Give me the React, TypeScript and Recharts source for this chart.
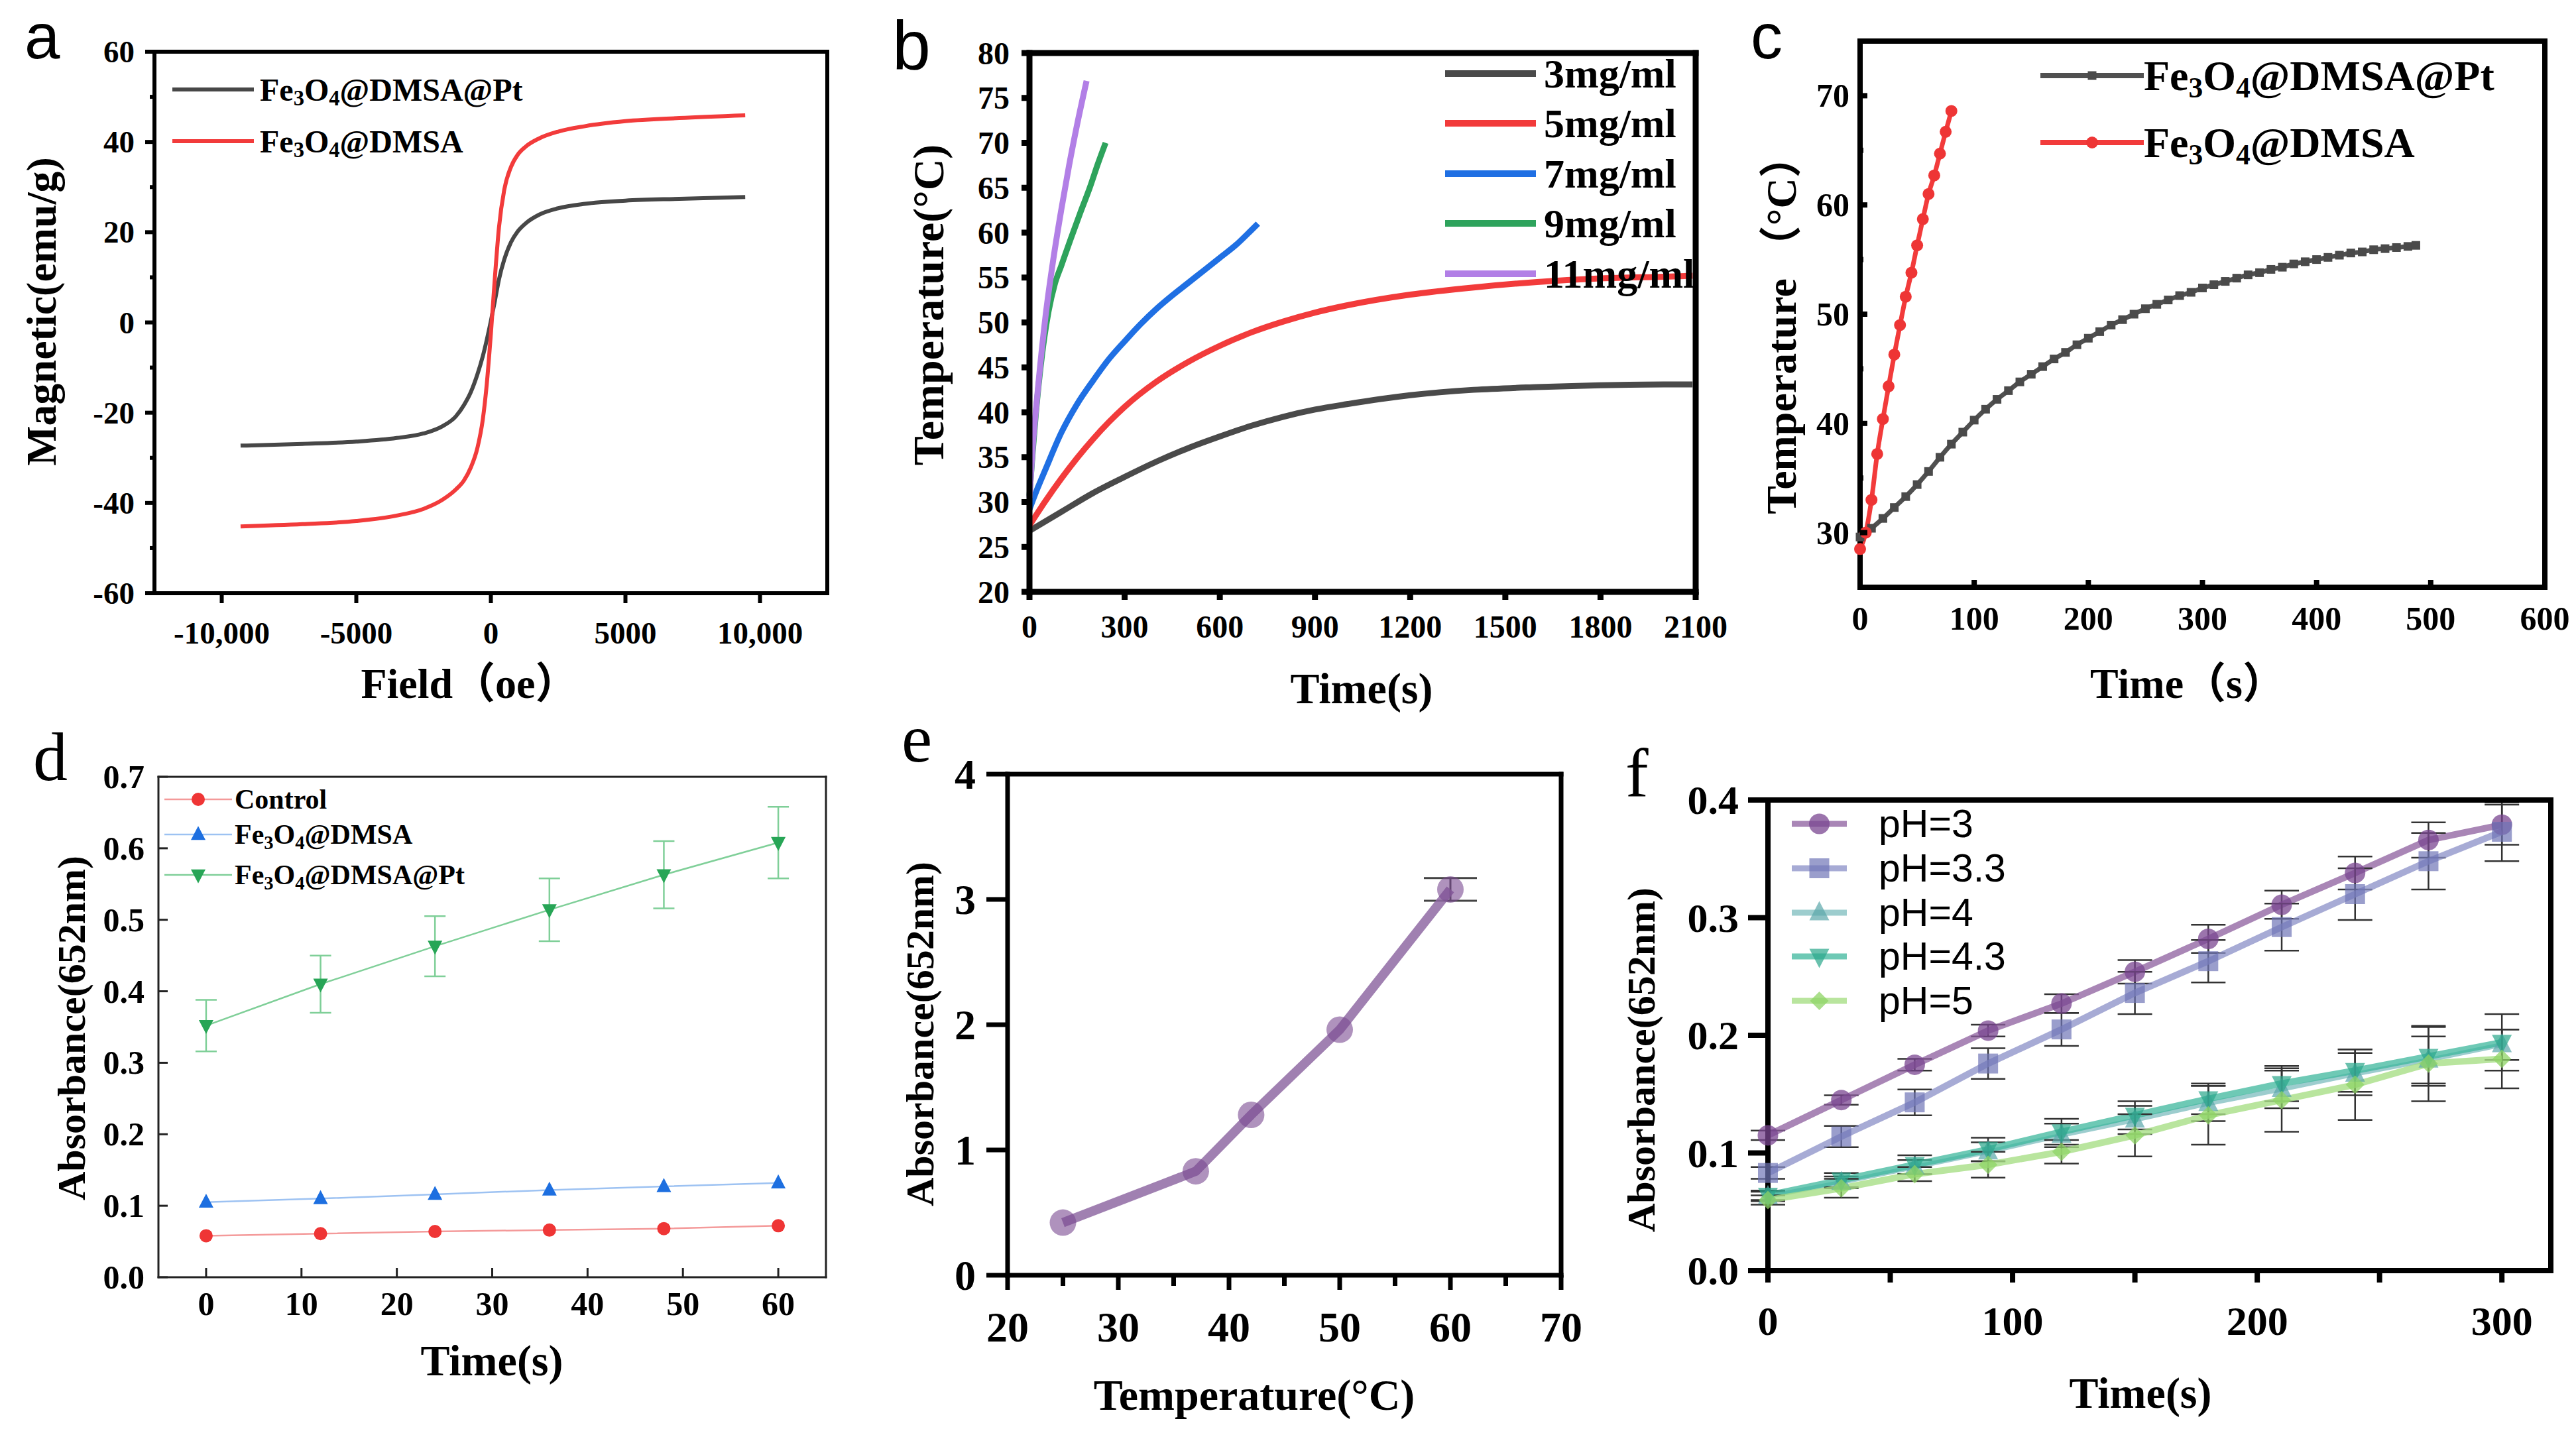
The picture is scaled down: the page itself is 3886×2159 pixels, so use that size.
import React from 'react';
import { LineChart, Line, XAxis, YAxis, ErrorBar, Legend } from 'recharts';

const W = 3886;
const H = 2159;
const SERIF = "'Liberation Serif', 'Times New Roman', 'Noto Sans CJK SC', serif";
const SANS = "'Liberation Sans', Arial, 'Noto Sans CJK SC', sans-serif";

// ---------------- Panel a : magnetization ----------------
const aFieldPt = [-9300, -7000, -5000, -3500, -2500, -1800, -1300, -1000, -750, -500, -300, -150, 0, 150, 300, 500, 750, 1000, 1300, 1800, 2500, 3500, 5000, 7000, 9450];
const aMagPt = [-27.3, -26.9, -26.4, -25.6, -24.6, -23.0, -20.8, -18.3, -15.5, -11.5, -7.5, -3.8, 0.3, 4.8, 9.5, 14.0, 17.8, 20.2, 22.0, 23.9, 25.3, 26.3, 27.0, 27.4, 27.8];
const aFieldDmsa = [-9300, -7000, -5000, -3500, -2500, -1800, -1300, -1000, -750, -500, -300, -150, 0, 150, 300, 500, 750, 1000, 1300, 1800, 2500, 3500, 5000, 7000, 9450];
const aMagDmsa = [-45.2, -44.7, -44.0, -42.8, -41.3, -39.3, -37.0, -35.0, -32.2, -27.8, -21.5, -13.5, -2.5, 10.0, 21.0, 29.5, 34.5, 37.2, 39.0, 40.8, 42.3, 43.5, 44.6, 45.3, 45.9];
const aXTicks = [-10000, -5000, 0, 5000, 10000];
const aXTickLabels = ['-10,000', '-5000', '0', '5000', '10,000'];
const aYTicks = [-60, -40, -20, 0, 20, 40, 60];
const aYTickLabels = ['-60', '-40', '-20', '0', '20', '40', '60'];
const aYMinor = [-50, -30, -10, 10, 30, 50];

// ---------------- Panel b : heating curves ----------------
const b3t = [0, 100, 200, 300, 400, 500, 600, 700, 800, 900, 1000, 1200, 1400, 1600, 1800, 2000, 2090];
const b3T = [26.8, 28.9, 31.0, 32.8, 34.5, 36.0, 37.3, 38.5, 39.5, 40.3, 40.9, 41.9, 42.5, 42.8, 43.0, 43.1, 43.1];
const b5t = [0, 50, 100, 150, 200, 250, 300, 400, 500, 600, 700, 800, 900, 1000, 1200, 1400, 1600, 1800, 2000, 2090];
const b5T = [27.4, 30.1, 32.6, 34.9, 37.0, 38.9, 40.6, 43.4, 45.6, 47.4, 48.9, 50.1, 51.1, 51.9, 53.1, 53.9, 54.5, 54.9, 55.1, 55.2];
const b7t = [0, 25, 50, 100, 150, 200, 250, 300, 350, 400, 450, 500, 550, 600, 650, 700, 720];
const b7T = [29.2, 31.5, 33.6, 37.7, 40.9, 43.5, 45.9, 47.9, 49.8, 51.5, 53.0, 54.4, 55.8, 57.2, 58.6, 60.3, 61.0];
const b9t = [0, 10, 20, 40, 60, 80, 100, 130, 160, 190, 215, 240];
const b9T = [30.7, 35.5, 39.8, 46.5, 51.2, 54.3, 56.3, 59.3, 62.2, 65.0, 67.6, 70.0];
const b11t = [0, 10, 25, 50, 75, 100, 125, 150, 180];
const b11T = [30.5, 36.0, 42.0, 50.5, 57.0, 62.5, 67.5, 72.0, 76.9];
const bXTicks = [0, 300, 600, 900, 1200, 1500, 1800, 2100];
const bXTickLabels = ['0', '300', '600', '900', '1200', '1500', '1800', '2100'];
const bYTicks = [20, 25, 30, 35, 40, 45, 50, 55, 60, 65, 70, 75, 80];
const bYTickLabels = ['20', '25', '30', '35', '40', '45', '50', '55', '60', '65', '70', '75', '80'];

// ---------------- Panel c : Pt vs no Pt ----------------
const cPtTime = [0, 10, 20, 30, 40, 50, 60, 70, 80, 90, 100, 110, 120, 130, 140, 150, 160, 170, 180, 190, 200, 210, 220, 230, 240, 250, 260, 270, 280, 290, 300, 310, 320, 330, 340, 350, 360, 370, 380, 390, 400, 410, 420, 430, 440, 450, 460, 470, 480, 487];
const cPtTemp = [29.6, 30.4, 31.3, 32.3, 33.3, 34.4, 35.6, 36.9, 38.1, 39.2, 40.3, 41.3, 42.2, 43.0, 43.8, 44.5, 45.2, 45.9, 46.5, 47.2, 47.8, 48.4, 49.0, 49.5, 50.0, 50.5, 50.9, 51.3, 51.7, 52.0, 52.4, 52.7, 53.0, 53.3, 53.6, 53.8, 54.1, 54.3, 54.6, 54.8, 55.0, 55.2, 55.4, 55.6, 55.7, 55.9, 56.0, 56.1, 56.2, 56.3];
const cDmsaTime = [0, 5, 10, 15, 20, 25, 30, 35, 40, 45, 50, 55, 60, 65, 70, 75, 80];
const cDmsaTemp = [28.5, 30.0, 33.0, 37.2, 40.4, 43.4, 46.3, 49.0, 51.6, 53.8, 56.3, 58.7, 61.0, 62.7, 64.7, 66.7, 68.6];
const cXTicks = [0, 100, 200, 300, 400, 500, 600];
const cXTickLabels = ['0', '100', '200', '300', '400', '500', '600'];
const cYTicks = [30, 40, 50, 60, 70];
const cYTickLabels = ['30', '40', '50', '60', '70'];
const cYMinor = [35, 45, 55, 65];

// ---------------- Panel d : absorbance vs time ----------------
const dTime = [0, 12, 24, 36, 48, 60];
const dControl = [0.058, 0.061, 0.064, 0.066, 0.068, 0.072];
const dDmsa = [0.105, 0.110, 0.116, 0.122, 0.127, 0.132];
const dPt = [0.352, 0.410, 0.463, 0.514, 0.563, 0.608];
const dPtErr = [0.036, 0.040, 0.042, 0.044, 0.047, 0.050];
const dXTicks = [0, 10, 20, 30, 40, 50, 60];
const dXTickLabels = ['0', '10', '20', '30', '40', '50', '60'];
const dYTicks = [0, 0.1, 0.2, 0.3, 0.4, 0.5, 0.6, 0.7];
const dYTickLabels = ['0.0', '0.1', '0.2', '0.3', '0.4', '0.5', '0.6', '0.7'];

// ---------------- Panel e : absorbance vs temperature ----------------
const eTemp = [25, 37, 42, 50, 60];
const eAbs = [0.42, 0.83, 1.28, 1.96, 3.08];
const eErr = [0, 0, 0, 0, 0.09];
const eXTicks = [20, 30, 40, 50, 60, 70];
const eXTickLabels = ['20', '30', '40', '50', '60', '70'];
const eXMinor = [25, 35, 45, 55, 65];
const eYTicks = [0, 1, 2, 3, 4];
const eYTickLabels = ['0', '1', '2', '3', '4'];

// ---------------- Panel f : pH ----------------
const fTime = [0, 30, 60, 90, 120, 150, 180, 210, 240, 270, 300];
const fPH3 = [0.115, 0.145, 0.175, 0.204, 0.227, 0.254, 0.282, 0.311, 0.338, 0.366, 0.379];
const fPH3Err = [0.004, 0.004, 0.005, 0.005, 0.008, 0.010, 0.012, 0.012, 0.014, 0.015, 0.017];
const fPH33 = [0.083, 0.114, 0.143, 0.176, 0.205, 0.236, 0.263, 0.292, 0.320, 0.348, 0.373];
const fPH33Err = [0.005, 0.009, 0.011, 0.013, 0.014, 0.018, 0.018, 0.020, 0.022, 0.024, 0.025];
const fPH4 = [0.063, 0.075, 0.088, 0.101, 0.115, 0.128, 0.142, 0.154, 0.167, 0.179, 0.192];
const fPH4Err = [0.004, 0.005, 0.006, 0.008, 0.010, 0.012, 0.015, 0.016, 0.018, 0.020, 0.013];
const fPH43 = [0.064, 0.077, 0.090, 0.103, 0.118, 0.132, 0.146, 0.159, 0.170, 0.182, 0.194];
const fPH43Err = [0.004, 0.006, 0.008, 0.010, 0.011, 0.012, 0.013, 0.015, 0.018, 0.025, 0.024];
const fPH5 = [0.060, 0.070, 0.082, 0.090, 0.101, 0.115, 0.132, 0.145, 0.158, 0.176, 0.180];
const fPH5Err = [0.004, 0.008, 0.006, 0.011, 0.010, 0.018, 0.025, 0.027, 0.030, 0.032, 0.025];
const fXTicks = [0, 100, 200, 300];
const fXTickLabels = ['0', '100', '200', '300'];
const fXMinor = [50, 150, 250];
const fYTicks = [0, 0.1, 0.2, 0.3, 0.4];
const fYTickLabels = ['0.0', '0.1', '0.2', '0.3', '0.4'];

// ---------------- helpers ----------------
type Pt = { x: number; y: number; e?: number };
const pts = (xs: number[], ys: number[], es?: number[]): Pt[] =>
  xs.map((x, i) => ({ x, y: ys[i], e: es ? es[i] : 0 }));

type MarkerKind = 'circle' | 'square' | 'tri' | 'triDown' | 'diamond';

function marker(kind: MarkerKind, cx: number, cy: number, size: number, fill: string, opacity: number, key?: any) {
  const s = size;
  if (kind === 'circle') return <circle key={key} cx={cx} cy={cy} r={s / 2} fill={fill} fillOpacity={opacity} />;
  if (kind === 'square') return <rect key={key} x={cx - s / 2} y={cy - s / 2} width={s} height={s} fill={fill} fillOpacity={opacity} />;
  if (kind === 'tri') return <polygon key={key} points={`${cx},${cy - s * 0.58} ${cx - s / 2},${cy + s * 0.38} ${cx + s / 2},${cy + s * 0.38}`} fill={fill} fillOpacity={opacity} />;
  if (kind === 'triDown') return <polygon key={key} points={`${cx},${cy + s * 0.58} ${cx - s / 2},${cy - s * 0.38} ${cx + s / 2},${cy - s * 0.38}`} fill={fill} fillOpacity={opacity} />;
  return <polygon key={key} points={`${cx},${cy - s / 2} ${cx + s / 2},${cy} ${cx},${cy + s / 2} ${cx - s / 2},${cy}`} fill={fill} fillOpacity={opacity} />;
}

function ChemText({ x, y, text, size, family, weight }: { x: number; y: number; text: string; size: number; family: string; weight: number }) {
  const runs: { t: string; sub: boolean }[] = [];
  for (let i = 0; i < text.length; i++) {
    const ch = text[i];
    const sub = /[0-9]/.test(ch) && i > 0 && /[A-Za-z]/.test(text[i - 1]) && text.startsWith('Fe');
    const last = runs[runs.length - 1];
    if (last && last.sub === sub) last.t += ch;
    else runs.push({ t: ch, sub });
  }
  const shift = size * 0.28;
  let cur = 0;
  return (
    <text x={x} y={y} dominantBaseline="central" fontFamily={family} fontWeight={weight} fontSize={size} fill="#000">
      {runs.map((r, i) => {
        const target = r.sub ? shift : 0;
        const dy = target - cur;
        cur = target;
        return (
          <tspan key={i} dy={dy} fontSize={r.sub ? size * 0.68 : size}>
            {r.t}
          </tspan>
        );
      })}
    </text>
  );
}

type Series = {
  name: string;
  data: Pt[];
  color: string;
  width: number;
  opacity?: number;
  curve: 'monotone' | 'linear';
  marker?: MarkerKind;
  markerSize?: number;
  markerColor?: string;
  markerOpacity?: number;
  err?: { stroke: string; width: number; strokeWidth: number };
};

type AxisCfg = {
  domain: [number, number];
  ticks: number[];
  labels: string[];
  minor?: number[];
  len: number;
  minorLen: number;
  inward: boolean;
  gap: number;
  font: number;
};

type LegendCfg = { x1: number; x2: number; textX: number; ys: number[]; font: number; family: string; weight: number; lineWidth: number };

type PanelCfg = {
  rect: { l: number; t: number; r: number; b: number };
  axisColor: string;
  axisWidth: number;
  x: AxisCfg;
  y: AxisCfg;
  series: Series[];
  legend?: LegendCfg;
};

function makeTick(side: 'x' | 'y', ax: AxisCfg, color: string, sw: number) {
  return (props: any) => {
    const { x, y, payload } = props;
    const v = payload ? payload.value : undefined;
    const idx = ax.ticks.indexOf(v);
    const major = idx >= 0;
    const len = major ? ax.len : ax.minorLen;
    if (side === 'x') {
      const dir = ax.inward ? -1 : 1;
      return (
        <g>
          <line x1={x} y1={y} x2={x} y2={y + dir * len} stroke={color} strokeWidth={sw} />
          {major && (
            <text x={x} y={y + ax.gap} textAnchor="middle" dominantBaseline="central" fontFamily={SERIF} fontWeight={700} fontSize={ax.font} fill="#000">
              {ax.labels[idx]}
            </text>
          )}
        </g>
      );
    }
    const dir = ax.inward ? 1 : -1;
    return (
      <g>
        <line x1={x} y1={y} x2={x + dir * len} y2={y} stroke={color} strokeWidth={sw} />
        {major && (
          <text x={x - ax.gap} y={y} textAnchor="end" dominantBaseline="central" fontFamily={SERIF} fontWeight={700} fontSize={ax.font} fill="#000">
            {ax.labels[idx]}
          </text>
        )}
      </g>
    );
  };
}

function Panel({ cfg }: { cfg: PanelCfg }) {
  const { rect } = cfg;
  // one-pixel axis bands round the plot rectangle
  const margin = { left: rect.l - 1, top: rect.t - 1, right: W - rect.r - 1, bottom: H - rect.b - 1 };
  const axisLine: any = { stroke: cfg.axisColor, strokeWidth: cfg.axisWidth, strokeLinecap: 'square' };
  const xTicks = [...cfg.x.ticks, ...(cfg.x.minor || [])].sort((a, b) => a - b);
  const yTicks = [...cfg.y.ticks, ...(cfg.y.minor || [])].sort((a, b) => a - b);
  const L = cfg.legend;
  const legendContent = () =>
    L ? (
      <svg width={W} height={H} style={{ position: 'absolute', left: 0, top: 0, overflow: 'visible', pointerEvents: 'none' }}>
        {cfg.series.map((s, i) => {
          const y = L.ys[i];
          const mx = (L.x1 + L.x2) / 2;
          return (
            <g key={i}>
              <line x1={L.x1} x2={L.x2} y1={y} y2={y} stroke={s.color} strokeWidth={L.lineWidth} strokeOpacity={s.opacity ?? 1} />
              {s.marker && marker(s.marker, mx, y, s.markerSize || 10, s.markerColor || s.color, s.markerOpacity ?? 1)}
              <ChemText x={L.textX} y={y} text={s.name} size={L.font} family={L.family} weight={L.weight} />
            </g>
          );
        })}
      </svg>
    ) : null;
  return (
    <div style={{ position: 'absolute', left: 0, top: 0, width: W, height: H }}>
      <LineChart width={W} height={H} margin={margin}>
        <XAxis xAxisId="main" type="number" dataKey="x" domain={cfg.x.domain} ticks={xTicks} interval={0} height={1}
          tickSize={0} tickMargin={0} tickLine={false} axisLine={axisLine} tick={makeTick('x', cfg.x, cfg.axisColor, cfg.axisWidth)} />
        <XAxis xAxisId="top" orientation="top" type="number" dataKey="x" domain={cfg.x.domain} height={1}
          tick={false} tickLine={false} axisLine={axisLine} />
        <YAxis yAxisId="main" type="number" domain={cfg.y.domain} ticks={yTicks} interval={0} width={1}
          tickSize={0} tickMargin={0} tickLine={false} axisLine={axisLine} tick={makeTick('y', cfg.y, cfg.axisColor, cfg.axisWidth)} />
        <YAxis yAxisId="right" orientation="right" type="number" domain={cfg.y.domain} width={1}
          tick={false} tickLine={false} axisLine={axisLine} />
        {cfg.series.map((s, i) => (
          <Line
            key={s.name}
            xAxisId="main"
            yAxisId="main"
            data={s.data}
            dataKey="y"
            name={s.name}
            type={s.curve}
            stroke={s.color}
            strokeWidth={s.width}
            strokeOpacity={s.opacity ?? 1}
            isAnimationActive={false}
            activeDot={false}
            dot={
              s.marker
                ? (p: any) =>
                    p.cx == null || p.cy == null
                      ? <g key={`n${p.index}`} />
                      : marker(s.marker as MarkerKind, p.cx, p.cy, s.markerSize || 10, s.markerColor || s.color, s.markerOpacity ?? 1, `m${i}-${p.index}`)
                : false
            }
          >
            {s.err && <ErrorBar dataKey="e" direction="y" width={s.err.width} strokeWidth={s.err.strokeWidth} stroke={s.err.stroke} isAnimationActive={false} />}
          </Line>
        ))}
        {L && (
          <Legend layout="vertical" align="center" verticalAlign="middle"
            wrapperStyle={{ left: 0, top: 0, width: W, height: H, pointerEvents: 'none' }}
            content={legendContent} />
        )}
      </LineChart>
    </div>
  );
}

const panels: PanelCfg[] = [
  {
    rect: { l: 233, t: 78, r: 1248, b: 895 },
    axisColor: '#000',
    axisWidth: 6,
    x: { domain: [-12500, 12500], ticks: aXTicks, labels: aXTickLabels, len: 15, minorLen: 7, inward: false, gap: 60, font: 47 },
    y: { domain: [-60, 60], ticks: aYTicks, labels: aYTickLabels, minor: aYMinor, len: 14, minorLen: 7, inward: false, gap: 30, font: 47 },
    series: [
      { name: 'Fe3O4@DMSA@Pt', data: pts(aFieldPt, aMagPt), color: '#474747', width: 6, curve: 'monotone' },
      { name: 'Fe3O4@DMSA', data: pts(aFieldDmsa, aMagDmsa), color: '#f23b3b', width: 6, curve: 'monotone' },
    ],
    legend: { x1: 260, x2: 383, textX: 392, ys: [135, 213], font: 48, family: SERIF, weight: 700, lineWidth: 6 },
  },
  {
    rect: { l: 1553, t: 80, r: 2558, b: 893 },
    axisColor: '#000',
    axisWidth: 9,
    x: { domain: [0, 2100], ticks: bXTicks, labels: bXTickLabels, len: 12, minorLen: 6, inward: false, gap: 52, font: 48 },
    y: { domain: [20, 80], ticks: bYTicks, labels: bYTickLabels, len: 12, minorLen: 6, inward: false, gap: 30, font: 48 },
    series: [
      { name: '3mg/ml', data: pts(b3t, b3T), color: '#4a4a4a', width: 9, curve: 'monotone' },
      { name: '5mg/ml', data: pts(b5t, b5T), color: '#f23b3b', width: 9, curve: 'monotone' },
      { name: '7mg/ml', data: pts(b7t, b7T), color: '#1f6fe3', width: 9, curve: 'monotone' },
      { name: '9mg/ml', data: pts(b9t, b9T), color: '#2ea35c', width: 9, curve: 'monotone' },
      { name: '11mg/ml', data: pts(b11t, b11T), color: '#b27fe6', width: 9, curve: 'monotone' },
    ],
    legend: { x1: 2180, x2: 2317, textX: 2329, ys: [111, 186, 262, 337, 413], font: 62, family: SERIF, weight: 700, lineWidth: 10 },
  },
  {
    rect: { l: 2806, t: 62, r: 3839, b: 886 },
    axisColor: '#000',
    axisWidth: 8,
    x: { domain: [0, 600], ticks: cXTicks, labels: cXTickLabels, len: 11, minorLen: 5, inward: true, gap: 47, font: 50 },
    y: { domain: [25, 75], ticks: cYTicks, labels: cYTickLabels, minor: cYMinor, len: 11, minorLen: 5, inward: true, gap: 16, font: 50 },
    series: [
      { name: 'Fe3O4@DMSA@Pt', data: pts(cPtTime, cPtTemp), color: '#505050', width: 7, curve: 'monotone', marker: 'square', markerSize: 13, markerColor: '#4a4a4a' },
      { name: 'Fe3O4@DMSA', data: pts(cDmsaTime, cDmsaTemp), color: '#f23b3b', width: 7, curve: 'monotone', marker: 'circle', markerSize: 18, markerColor: '#ee3535' },
    ],
    legend: { x1: 3078, x2: 3234, textX: 3234, ys: [114, 215], font: 64, family: SERIF, weight: 700, lineWidth: 8 },
  },
  {
    rect: { l: 239, t: 1172, r: 1246, b: 1927 },
    axisColor: '#222',
    axisWidth: 3,
    x: { domain: [-5, 65], ticks: dXTicks, labels: dXTickLabels, len: 14, minorLen: 7, inward: true, gap: 40, font: 50 },
    y: { domain: [0, 0.7], ticks: dYTicks, labels: dYTickLabels, len: 14, minorLen: 7, inward: true, gap: 21, font: 50 },
    series: [
      { name: 'Control', data: pts(dTime, dControl), color: '#f49a9a', width: 2.5, curve: 'linear', marker: 'circle', markerSize: 20, markerColor: '#ef3535' },
      { name: 'Fe3O4@DMSA', data: pts(dTime, dDmsa), color: '#9dc2f2', width: 2.5, curve: 'linear', marker: 'tri', markerSize: 22, markerColor: '#1d6fe0' },
      { name: 'Fe3O4@DMSA@Pt', data: pts(dTime, dPt, dPtErr), color: '#7fcf98', width: 2.5, curve: 'linear', marker: 'triDown', markerSize: 22, markerColor: '#27a556', err: { stroke: '#7fcf98', width: 16, strokeWidth: 2.5 } },
    ],
    legend: { x1: 248, x2: 350, textX: 354, ys: [1206, 1259, 1320], font: 42, family: SERIF, weight: 700, lineWidth: 2.5 },
  },
  {
    rect: { l: 1520, t: 1168, r: 2355, b: 1924 },
    axisColor: '#000',
    axisWidth: 7,
    x: { domain: [20, 70], ticks: eXTicks, labels: eXTickLabels, minor: eXMinor, len: 22, minorLen: 16, inward: false, gap: 78, font: 64 },
    y: { domain: [0, 4], ticks: eYTicks, labels: eYTickLabels, len: 32, minorLen: 16, inward: false, gap: 48, font: 64 },
    series: [
      { name: 'Absorbance', data: pts(eTemp, eAbs, eErr), color: '#8f6aa3', width: 14, opacity: 0.85, curve: 'linear', marker: 'circle', markerSize: 40, markerColor: '#7a4a91', markerOpacity: 0.6, err: { stroke: '#444', width: 40, strokeWidth: 3 } },
    ],
  },
  {
    rect: { l: 2667, t: 1207, r: 3848, b: 1917 },
    axisColor: '#000',
    axisWidth: 8,
    x: { domain: [0, 320], ticks: fXTicks, labels: fXTickLabels, minor: fXMinor, len: 18, minorLen: 18, inward: false, gap: 76, font: 62 },
    y: { domain: [0, 0.4], ticks: fYTicks, labels: fYTickLabels, len: 30, minorLen: 15, inward: false, gap: 44, font: 62 },
    series: [
      { name: 'pH=3', data: pts(fTime, fPH3, fPH3Err), color: '#8c5d9e', width: 10, opacity: 0.75, curve: 'linear', marker: 'circle', markerSize: 31, markerColor: '#7a4590', markerOpacity: 0.75, err: { stroke: '#333', width: 26, strokeWidth: 2.5 } },
      { name: 'pH=3.3', data: pts(fTime, fPH33, fPH33Err), color: '#8a8fc7', width: 10, opacity: 0.75, curve: 'linear', marker: 'square', markerSize: 30, markerColor: '#6f75b7', markerOpacity: 0.7, err: { stroke: '#333', width: 26, strokeWidth: 2.5 } },
      { name: 'pH=4', data: pts(fTime, fPH4, fPH4Err), color: '#7cbcbe', width: 7, opacity: 0.75, curve: 'linear', marker: 'tri', markerSize: 30, markerColor: '#5aa6aa', markerOpacity: 0.7, err: { stroke: '#333', width: 26, strokeWidth: 2.5 } },
      { name: 'pH=4.3', data: pts(fTime, fPH43, fPH43Err), color: '#3db79c', width: 10, opacity: 0.75, curve: 'linear', marker: 'triDown', markerSize: 30, markerColor: '#2aa78a', markerOpacity: 0.7, err: { stroke: '#333', width: 26, strokeWidth: 2.5 } },
      { name: 'pH=5', data: pts(fTime, fPH5, fPH5Err), color: '#a8de86', width: 10, opacity: 0.8, curve: 'linear', marker: 'diamond', markerSize: 28, markerColor: '#8fd466', markerOpacity: 0.75, err: { stroke: '#333', width: 26, strokeWidth: 2.5 } },
    ],
    legend: { x1: 2703, x2: 2786, textX: 2834, ys: [1243, 1310, 1377, 1443, 1510], font: 59, family: SANS, weight: 400, lineWidth: 9 },
  },
];

const titles = [
  { text: 'Magnetic(emu/g)', x: 62, y: 470, rot: true, size: 64 },
  { text: 'Field（oe）', x: 708, y: 1031, rot: false, size: 64 },
  { text: 'Temperature(°C)', x: 1400, y: 460, rot: true, size: 66 },
  { text: 'Time(s)', x: 2054, y: 1038, rot: false, size: 66 },
  { text: 'Temperature （°C）', x: 2687, y: 490, rot: true, size: 64 },
  { text: 'Time（s）', x: 3300, y: 1031, rot: false, size: 64 },
  { text: 'Absorbance(652nm)', x: 108, y: 1551, rot: true, size: 60 },
  { text: 'Time(s)', x: 742, y: 2052, rot: false, size: 66 },
  { text: 'Absorbance(652nm)', x: 1388, y: 1560, rot: true, size: 60 },
  { text: 'Temperature(°C)', x: 1892, y: 2104, rot: false, size: 66 },
  { text: 'Absorbance(652nm)', x: 2476, y: 1599, rot: true, size: 60 },
  { text: 'Time(s)', x: 3229, y: 2101, rot: false, size: 66 },
];

const letters = [
  { t: 'a', x: 37, y: 88, fam: SANS, size: 96 },
  { t: 'b', x: 1346, y: 104, fam: SANS, size: 104 },
  { t: 'c', x: 2641, y: 88, fam: SANS, size: 96 },
  { t: 'd', x: 50, y: 1177, fam: SERIF, size: 104 },
  { t: 'e', x: 1360, y: 1149, fam: SERIF, size: 104 },
  { t: 'f', x: 2452, y: 1201, fam: SERIF, size: 104 },
];

export default function App() {
  return (
    <div style={{ position: 'absolute', left: 0, top: 0, width: W, height: H, background: '#fff', overflow: 'hidden' }}>
      {panels.map((p, i) => (
        <Panel key={i} cfg={p} />
      ))}
      <svg width={W} height={H} style={{ position: 'absolute', left: 0, top: 0, pointerEvents: 'none' }}>
        {titles.map((t, i) => (
          <text
            key={i}
            x={t.x}
            y={t.y}
            textAnchor="middle"
            dominantBaseline="central"
            fontFamily={SERIF}
            fontWeight={700}
            fontSize={t.size}
            transform={t.rot ? `rotate(-90 ${t.x} ${t.y})` : undefined}
            fill="#000"
          >
            {t.text}
          </text>
        ))}
        {letters.map((l, i) => (
          <text key={i} x={l.x} y={l.y} fontFamily={l.fam} fontSize={l.size} fill="#000">
            {l.t}
          </text>
        ))}
      </svg>
    </div>
  );
}
